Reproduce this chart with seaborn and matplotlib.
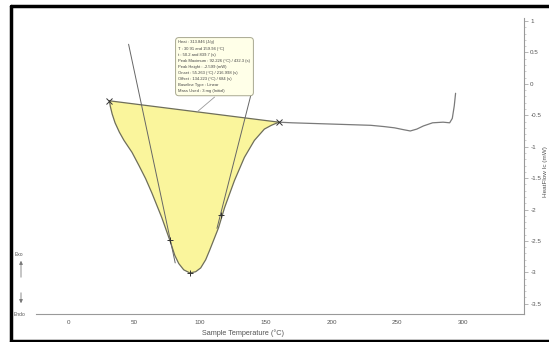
import numpy as np
import pandas as pd
import matplotlib

matplotlib.use("Agg")
import matplotlib.pyplot as plt
from matplotlib.lines import Line2D
from matplotlib.patches import FancyArrowPatch
import seaborn as sns

# --- dati --------------------------------------------------------------------
peak_T = [30.91, 31.6, 33.0, 35.2, 38.5, 42.0, 48.1, 53.4, 58.5, 63.3, 70.8, 76.9, 80.7, 83.7,
          87.5, 92.2, 96.6, 100.4, 104.2, 107.2, 114.0, 118.6, 126.1, 133.7, 141.3, 148.9,
          154.2, 159.94]
peak_hf = [-0.27, -0.36, -0.48, -0.62, -0.77, -0.90, -1.09, -1.30, -1.51, -1.74, -2.13, -2.49,
           -2.73, -2.86, -2.96, -3.01, -2.99, -2.93, -2.80, -2.65, -2.29, -1.97, -1.54, -1.17,
           -0.90, -0.72, -0.66, -0.61]
tail_T = [159.94, 170, 185, 200, 215, 230, 240, 248, 255, 260, 265, 270, 277, 285, 290, 292, 293.5, 294.5]
tail_hf = [-0.61, -0.62, -0.63, -0.64, -0.65, -0.66, -0.68, -0.70, -0.73, -0.75, -0.72, -0.67,
           -0.62, -0.61, -0.62, -0.55, -0.35, -0.15]
tan_sx_T, tan_sx_hf = [45.5, 81.0], [0.63, -2.85]
tan_dx_T, tan_dx_hf = [112.8, 138.6], [-2.30, -0.18]
infl_T, infl_hf = [76.9, 115.5], [-2.49, -2.08]
picco_T, picco_hf = [92.2], [-3.01]
guida_T, guida_hf = [97.5, 111.0], [-0.45, -0.21]

info = ["Heat : 313.846 (J/g)",
        "T : 30.91 and 159.94 (°C)",
        "t : 50.2 and 839.7 (s)",
        "Peak Maximum : 92.226 (°C) / 432.3 (s)",
        "Peak Height : -2.599 (mW)",
        "Onset : 55.263 (°C) / 216.998 (s)",
        "Offset : 134.223 (°C) / 684 (s)",
        "Baseline Type : Linear",
        "Mass Used : 3 mg (Initial)"]

GIALLO, LINEA, GRIGIO, TESTO = "#faf59c", "#6e6e5a", "#7a7a7a", "#555555"

sns.set_theme(style="white")
plt.rcParams["font.family"] = ["Liberation Sans", "DejaVu Sans"]

fig = plt.figure(figsize=(5.49, 3.42), dpi=100)
ax = fig.add_axes([36 / 549, 1 - 314 / 342, 488 / 549, 296 / 342])

picco = pd.DataFrame({"T": peak_T, "hf": peak_hf})
coda = pd.DataFrame({"T": tail_T, "hf": tail_hf})

ax.fill(picco["T"], picco["hf"], color=GIALLO, zorder=1, lw=0)
sns.lineplot(data=picco, x="T", y="hf", ax=ax, color=LINEA, lw=0.9, sort=False, zorder=3)
sns.lineplot(data=coda, x="T", y="hf", ax=ax, color=GRIGIO, lw=0.9, sort=False, zorder=3)
ax.plot([peak_T[0], peak_T[-1]], [peak_hf[0], peak_hf[-1]], color=LINEA, lw=0.9, zorder=3)
ax.plot(tan_sx_T, tan_sx_hf, color="#666666", lw=0.7, zorder=4)
ax.plot(tan_dx_T, tan_dx_hf, color="#666666", lw=0.7, zorder=4)
ax.plot(guida_T, guida_hf, color="#999999", lw=0.6, zorder=4)
ax.plot([peak_T[0], peak_T[-1]], [peak_hf[0], peak_hf[-1]], "x", color="#333333", ms=4, mew=0.7, zorder=5)
ax.plot(infl_T, infl_hf, "+", color="#333333", ms=4, mew=0.7, zorder=5)
ax.plot(picco_T, picco_hf, "+", color="#333333", ms=5, mew=0.7, zorder=5)

ax.text(83.5, 0.69, "\n".join(info), fontsize=3.0, color="#444444", va="top", ha="left",
        linespacing=1.68, zorder=6,
        bbox=dict(boxstyle="round,pad=0.7,rounding_size=0.8", fc="#ffffe8", ec="#a8a890", lw=0.7))

ax.set_xlim(-23.1, 346.6)
ax.set_ylim(-3.663, 1.048)
ax.set_xticks(np.arange(0, 301, 50))
ax.set_xticks(np.arange(-25, 346, 25), minor=True)
ax.set_yticks(np.arange(-3.5, 1.01, 0.5))
ax.set_yticks(np.arange(-3.5, 1.01, 0.1), minor=True)
ax.set_yticklabels([f"{v:g}" for v in np.arange(-3.5, 1.01, 0.5)])
ax.yaxis.tick_right()
ax.yaxis.set_label_position("right")
ax.tick_params(axis="both", which="major", labelsize=4.5, labelcolor=TESTO, color="#999999",
               length=3, width=0.5, pad=1.5)
ax.tick_params(axis="both", which="minor", color="#bbbbbb", length=1.5, width=0.5)
ax.tick_params(axis="x", which="major", direction="inout", length=4, pad=2)
ax.set_xlabel("Sample Temperature (°C)", fontsize=5.2, color=TESTO)
ax.xaxis.set_label_coords(207 / 488, -15 / 296)
ax.set_ylabel("HeatFlow Ic (mW)", fontsize=4.6, color=TESTO, rotation=90, va="center")
ax.yaxis.set_label_coords(510 / 488, 0.48)
for lato in ["left", "top"]:
    ax.spines[lato].set_visible(False)
for lato in ["right", "bottom"]:
    ax.spines[lato].set_color("#999999")
    ax.spines[lato].set_linewidth(0.8)

# frecce Exo / Endo
fig.text(19 / 549, 1 - 254 / 342, "Exo", fontsize=3.6, color=TESTO, ha="center", va="center")
fig.text(20 / 549, 1 - 314 / 342, "Endo", fontsize=3.6, color=TESTO, ha="center", va="center")
for y0, y1 in [(280, 258), (290, 306)]:
    fig.patches.append(FancyArrowPatch(
        (21 / 549, 1 - y0 / 342), (21 / 549, 1 - y1 / 342), transform=fig.transFigure,
        arrowstyle="-|>,head_length=2,head_width=1", color="#777777", lw=0.6))

# cornice nera dello screenshot
for xs, ys in [([11, 11], [6, 341]), ([11, 549], [6, 6]), ([11, 549], [341, 341])]:
    fig.add_artist(Line2D([x / 549 for x in xs], [1 - y / 342 for y in ys],
                          transform=fig.transFigure, color="black", lw=2.5))

fig.savefig("out.png", dpi=100)
